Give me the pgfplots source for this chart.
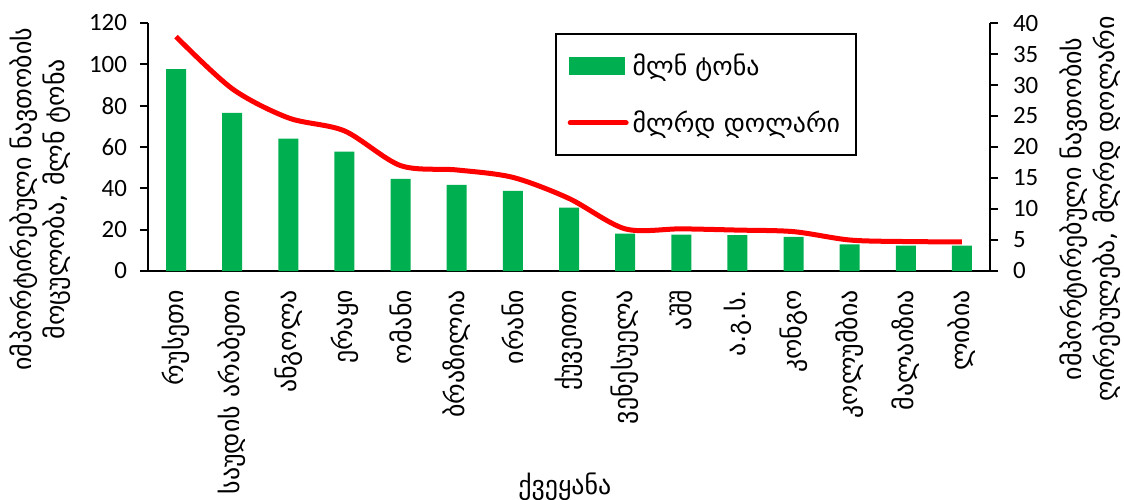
\documentclass[border=0pt]{standalone}
\usepackage{fontspec}
\setmainfont{Carlito}
\newfontfamily\geo{DejaVu Sans}
\usepackage{pgfplots}
\usepackage{pgfplotstable}
\pgfplotsset{compat=1.18}
\definecolor{bargreen}{HTML}{00B050}
\pgfplotstableread{
x vol val
1 97.7 37.8
2 76.5 29.4
3 64.1 24.7
4 57.8 22.6
5 44.6 17.0
6 41.7 16.3
7 38.8 15.1
8 30.7 11.7
9 18.1 6.8
10 17.6 6.8
11 17.3 6.6
12 16.5 6.35
13 12.9 5.0
14 12.3 4.75
15 12.3 4.7
}\data
\begin{document}
\begin{tikzpicture}
\useasboundingbox (-74bp,-114.5bp) rectangle (488bp,135.5bp);
\pgfplotsset{
  common/.style={
    scale only axis, width=421bp, height=124bp,
    xmin=0.5, xmax=15.5,
    axis line style={line width=1bp, black},
    every tick/.style={line width=1bp, black},
    tick align=outside,
    major tick length=4bp,
    /pgf/number format/assume math mode=true,
    ticklabel style={font=\fontsize{12.5}{14}\selectfont},
    label style={font=\geo\fontsize{13}{16.5}\selectfont},
  }
}
\begin{axis}[common,
  axis x line*=bottom, axis y line*=left,
  ymin=0, ymax=120, ytick={0,20,...,120},
  y tick label style={xshift=-3bp},
  xtick={1,...,15},
  xticklabels={რუსეთი,საუდის არაბეთი,ანგოლა,ერაყი,ომანი,ბრაზილია,ირანი,ქუვეითი,ვენესუელა,აშშ,ა.გ.ს.,კონგო,კოლუმბია,მალაიზია,ლიბია},
  x tick label style={rotate=90, anchor=east, font=\geo\fontsize{13}{15}\selectfont, xshift=-2bp},
  xtick style={draw=none},
  extra x ticks={0.5,1.5,...,15.5},
  extra x tick labels={},
  extra x tick style={major tick length=5bp, tick style={line width=1bp, black, draw=black}},
  ylabel={იმპორტირებული ნავთობის\\მოცულობა, მლნ ტონა},
  ylabel style={align=center, at={(axis description cs:-0.128,0.29)}, anchor=center},
  xlabel={ქვეყანა},
  xlabel style={at={(axis description cs:0.495,-0.87)}, anchor=center},
]
\addplot[ybar, bar width=10bp, fill=bargreen, draw=none] table[x=x, y=vol] {\data};
\end{axis}
\begin{axis}[common,
  axis x line=none, axis y line*=right,
  ymin=0, ymax=40, ytick={0,5,...,40},
  y tick label style={xshift=4bp},
  ylabel={იმპორტირებული ნავთობის\\ღირებულება, მლრდ დოლარი},
  ylabel style={align=center, at={(axis description cs:1.119,0.25)}, anchor=center},
  legend style={at={(axis description cs:0.483,0.96)}, anchor=north west,
    draw=black, line width=1bp, font=\geo\fontsize{13}{15}\selectfont,
    row sep=12bp, inner xsep=6bp, inner ysep=8bp, legend cell align=left},
]
\addlegendimage{legend image code/.code={\fill[bargreen] (0bp,-4bp) rectangle (27bp,4bp);}}
\addlegendentry{მლნ ტონა}
\addplot[red, line width=2.5bp, smooth, tension=0.5, mark=none,
  legend image code/.code={\draw[red, line width=2.5bp, line cap=round] (0bp,0bp) -- (28bp,0bp);}]
  table[x=x, y=val] {\data};
\addlegendentry{მლრდ დოლარი}
\end{axis}
\end{tikzpicture}
\end{document}
